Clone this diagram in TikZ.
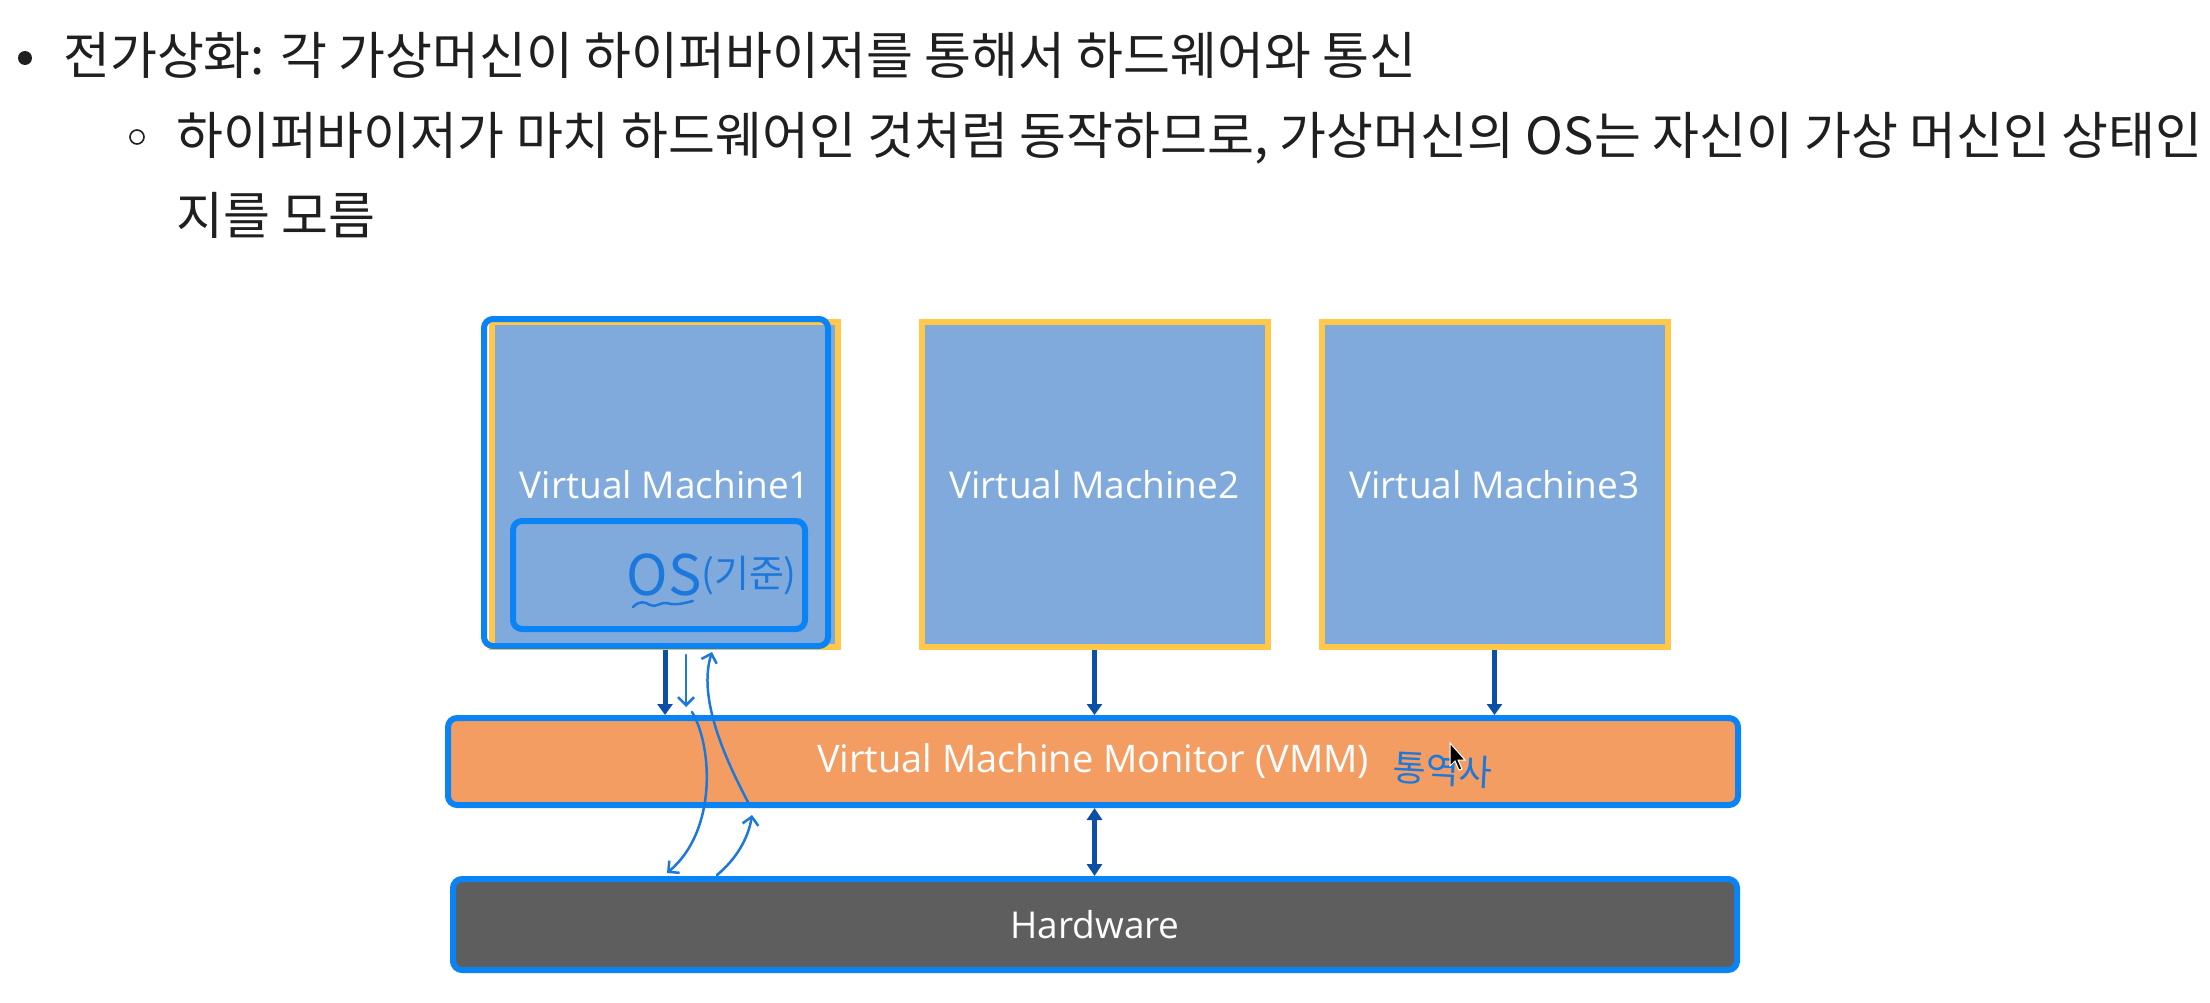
\documentclass[tikz,border=0pt]{standalone}
\usepackage{fontspec}
\setmainfont{Open Sans}
\newfontfamily\kr{Noto Sans CJK KR}
\usetikzlibrary{arrows.meta}
\definecolor{vmfill}{HTML}{7FAADB}
\definecolor{vmedge}{HTML}{FFC84B}
\definecolor{hl}{HTML}{0A84F5}
\definecolor{vmmfill}{HTML}{F49D63}
\definecolor{hwfill}{HTML}{5E5E5E}
\definecolor{arr}{HTML}{0E4FA6}
\definecolor{pen}{HTML}{1C78DA}
\definecolor{txt}{HTML}{1F1F1F}
\tikzset{
  toptext/.style={anchor=base west, inner sep=0pt, text=txt, font=\kr\fontsize{51}{60}\selectfont},
  vmbox/.style={draw=vmedge, fill=vmfill, line width=6pt, minimum width=346pt, minimum height=325pt, inner sep=0pt, text=white, font=\fontsize{37}{44}\selectfont},
  hlbox/.style={draw=hl, line width=6pt, rounded corners=9pt, fill=none},
  barbox/.style={draw=hl, line width=6pt, rounded corners=9pt, inner sep=0pt, minimum width=1290pt, minimum height=87pt, text=white, font=\fontsize{37}{44}\selectfont},
  vmarrow/.style={draw=arr, line width=5pt, -{Triangle[width=15pt,length=11pt]}},
  duoarrow/.style={draw=arr, line width=5pt, {Triangle[width=15pt,length=12pt]}-{Triangle[width=15pt,length=12pt]}},
  penline/.style={draw=pen, line width=2.5pt, line cap=round, -{Straight Barb[width=16pt,length=8pt,line width=2.5pt]}},
  pentext/.style={text=pen, inner sep=0pt, font=\kr\fontsize{34}{40}\selectfont},
}
\begin{document}
\begin{tikzpicture}[x=1pt,y=-1pt]
\useasboundingbox[fill=white] (0,0) rectangle (2210,1003);

% bullet text
\fill[txt] (25,58) circle (7);
\node[toptext] (l1) at (63,75) {전가상화: 각 가상머신이 하이퍼바이저를 통해서 하드웨어와 통신};
\draw[txt, line width=1.6pt] (137,137) circle (7);
\node[toptext] (l2) at (176,155) {하이퍼바이저가 마치 하드웨어인 것처럼 동작하므로, 가상머신의 OS는 자신이 가상 머신인 상태인};
\node[toptext] (l3) at (176,234) {지를 모름};

% virtual machines
\node[vmbox] (vm1) at (665,484.5) {Virtual Machine1};
\node[vmbox] (vm2) at (1094.5,484.5) {Virtual Machine2};
\node[vmbox] (vm3) at (1494.5,484.5) {Virtual Machine3};
\draw[hlbox] (484,319) rectangle (828,646);
\node[hlbox, minimum width=292pt, minimum height=108pt, inner sep=0pt] (os) at (659,575) {};

% bars
\node[barbox, fill=vmmfill, font=\fontsize{38}{44}\selectfont] (vmm) at (1093,761.5) {Virtual Machine Monitor (VMM)};
\node[barbox, fill=hwfill, minimum width=1284pt, minimum height=91pt] (hw) at (1095,924.5) {Hardware};

% connectors
\draw[vmarrow] (vm1.south) -- (vm1.south |- vmm.north);
\draw[vmarrow] (vm2.south) -- (vm2.south |- vmm.north);
\draw[vmarrow] (vm3.south) -- (vm3.south |- vmm.north);
\draw[duoarrow] (vmm.south -| vm2.south) -- (hw.north -| vm2.south);

% handwritten annotations
\node[pentext, font=\kr\fontsize{56}{64}\selectfont] (ostext) at (664,575) {OS};
\node[pentext, font=\kr\fontsize{38}{44}\selectfont] (kijun) at (749,576) {(기준)};
\draw[pen, line width=2.5pt, line cap=round] (633,607) .. controls (640,600) and (645,602) .. (650,605) .. controls (656,608) and (660,602) .. (667,603) .. controls (675,606) and (684,603) .. (693,601);
\node[pentext, rotate=-3, font=\kr\fontsize{36}{42}\selectfont] (tongyeok) at (1443,770) {통역사};

\coordinate (p1) at (686,655);
\coordinate (p2) at (686,707);
\coordinate (a1) at (692,712);
\coordinate (a2) at (667,873);
\coordinate (b1) at (717,875);
\coordinate (b2) at (752,815);
\coordinate (c1) at (748,802);
\coordinate (c2) at (712,652);
\draw[penline] (p1) -- (p2);
\draw[penline] (a1) .. controls (712,745) and (718,830) .. (a2);
\draw[penline] (b1) .. controls (735,860) and (748,840) .. (b2);
\draw[penline] (c1) .. controls (715,740) and (700,690) .. (c2);

% mouse cursor
\draw[fill=black, draw=white, line width=1pt] (1450,743) -- (1450,766) -- (1455,761) -- (1459,770) -- (1462,769) -- (1458,760) -- (1465,760) -- cycle;
\end{tikzpicture}
\end{document}
